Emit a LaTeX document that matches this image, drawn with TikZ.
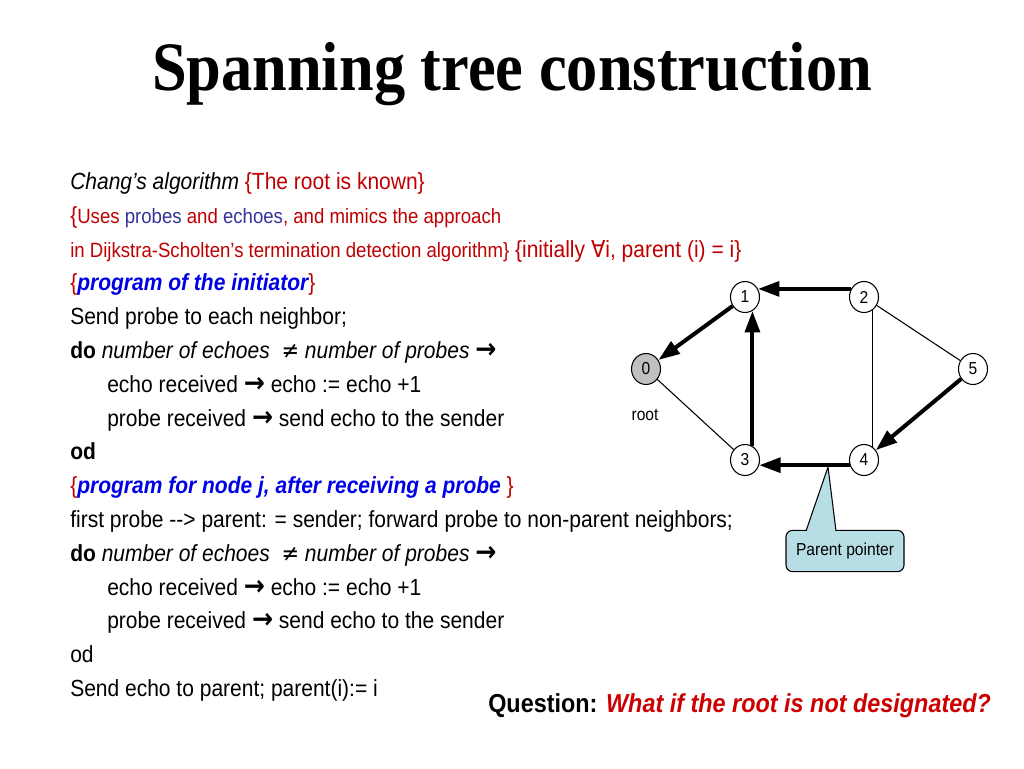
\documentclass[tikz,border=0pt]{standalone}
\usepackage{fontspec}
\usetikzlibrary{arrows.meta,shapes.geometric}

\newfontfamily\arialfont{Liberation Sans}[FakeStretch=0.9]
\newfontfamily\timesfont{Liberation Serif}[FakeStretch=0.9]
\newfontfamily\symbolfont{DejaVu Sans}[FakeStretch=0.9]

\definecolor{darkred}{RGB}{192,0,0}
\definecolor{qred}{RGB}{204,0,0}
\definecolor{navy}{RGB}{51,51,153}
\definecolor{progblue}{RGB}{0,0,230}
\definecolor{calloutfill}{RGB}{183,222,228}
\definecolor{rootgray}{RGB}{192,192,192}

\newcommand{\bodysize}{\fontsize{17.5}{21}\selectfont}
\newcommand{\smallsize}{\fontsize{15.5}{19}\selectfont}
\newcommand{\arr}{{\symbolfont\upshape\bfseries\fontsize{21}{21}\selectfont →}}
\newcommand{\noteq}{{\symbolfont ≠}}
\newcommand{\forallsym}{{\symbolfont ∀}}

\begin{document}
\begin{tikzpicture}[x=0.75pt,y=-0.75pt,
	codeline/.style={anchor=base west, inner sep=0pt, font=\arialfont\bodysize},
	vertex/.style={ellipse, draw, line width=0.8pt, fill=white, minimum width=21.75pt,
		minimum height=23.25pt, inner sep=0pt, font=\arialfont\fontsize{13}{15}\selectfont},
	treeedge/.style={line width=3pt, -{Triangle[length=16pt,width=11pt]}},
	link/.style={line width=0.8pt},
	pointerbox/.style={draw, line width=0.8pt, rounded corners=5pt, fill=calloutfill,
		minimum width=88.5pt, minimum height=31pt, inner sep=0pt,
		font=\arialfont\fontsize{13}{15}\selectfont}]
	\useasboundingbox (0,0) rectangle (1024,768);

	% Title
	\node[anchor=base, inner sep=0pt, font=\timesfont\bfseries\fontsize{52}{60}\selectfont]
		(title) at (512,90) {Spanning tree construction};

	% Algorithm text
	\node[codeline] (l0) at (70,189.5) {\textit{Chang’s algorithm} \textcolor{darkred}{\{The root is known\}}};
	\node[codeline] (l1) at (70,223.3) {\color{darkred}\{{\smallsize Uses \textcolor{navy}{probes} and
		\textcolor{navy}{echoes}, and mimics the approach}};
	\node[codeline] (l2) at (70,257.1) {\color{darkred}{\smallsize in Dijkstra-Scholten’s termination
		detection algorithm\}} \{initially \forallsym i, parent (i) = i\}};
	\node[codeline] (l3) at (70,290.9) {\textcolor{darkred}{\{}\textcolor{progblue}{\bfseries\itshape program
		of the initiator}\textcolor{darkred}{\}}};
	\node[codeline] (l4) at (70,324.7) {Send probe to each neighbor;};
	\node[codeline] (l5) at (70,358.5) {\textbf{do} \textit{number of echoes \ \noteq\ number of probes} \arr};
	\node[codeline] (l6) at (107,392.3) {echo received \arr\ echo := echo +1};
	\node[codeline] (l7) at (107,426.1) {probe received \arr\ send echo to the sender};
	\node[codeline] (l8) at (70,459.9) {\textbf{od}};
	\node[codeline] (l9) at (70,493.7) {\textcolor{darkred}{\{}\textcolor{progblue}{\bfseries\itshape program
		for node j, after receiving a probe} \textcolor{darkred}{\}}};
	\node[codeline] (l10) at (70,527.5) {first probe -{}-> parent: = sender; forward probe to non-parent neighbors;};
	\node[codeline] (l11) at (70,561.3) {\textbf{do} \textit{number of echoes \ \noteq\ number of probes} \arr};
	\node[codeline] (l12) at (107,595.1) {echo received \arr\ echo := echo +1};
	\node[codeline] (l13) at (107,628.9) {probe received \arr\ send echo to the sender};
	\node[codeline] (l14) at (70,662.7) {od};
	\node[codeline] (l15) at (70,696.5) {Send echo to parent; parent(i):= i};

	% Question
	\node[anchor=base west, inner sep=0pt, font=\arialfont\bfseries\fontsize{19.5}{23}\selectfont]
		(question) at (488,712) {Question: \textcolor{qred}{\itshape What if the root is not designated?}};

	% Graph
	\node[vertex, fill=rootgray] (n0) at (646,369) {0};
	\node[vertex] (n1) at (745,297) {1};
	\node[vertex] (n2) at (864,297) {2};
	\node[vertex] (n3) at (745,460) {3};
	\node[vertex] (n4) at (864,460) {4};
	\node[vertex] (n5) at (973,369) {5};
	\node[inner sep=0pt, font=\arialfont\fontsize{13}{15}\selectfont] (rootlabel) at (645,415) {root};

	\draw[link] (n0) -- (n3);
	\draw[link] (n2.-58) -- (n4.58);
	\draw[link] (n2) -- (n5);
	\draw[treeedge] (n2.148) -- (n1.32);
	\draw[treeedge] (n1) -- (n0);
	\draw[treeedge] (n3.62) -- (n1.-62);
	\draw[treeedge] (n5) -- (n4);
	\draw[treeedge] (n4.-160) -- (n3.-20);

	% Callout
	\node[pointerbox] (pp) at (845,551) {Parent pointer};
	\coordinate (tip) at (828,467);
	\fill[calloutfill] (806,532.5) -- (tip) -- (836,532.5) -- cycle;
	\draw[line width=0.8pt] (806,531) -- (tip) -- (836,531);
\end{tikzpicture}
\end{document}
